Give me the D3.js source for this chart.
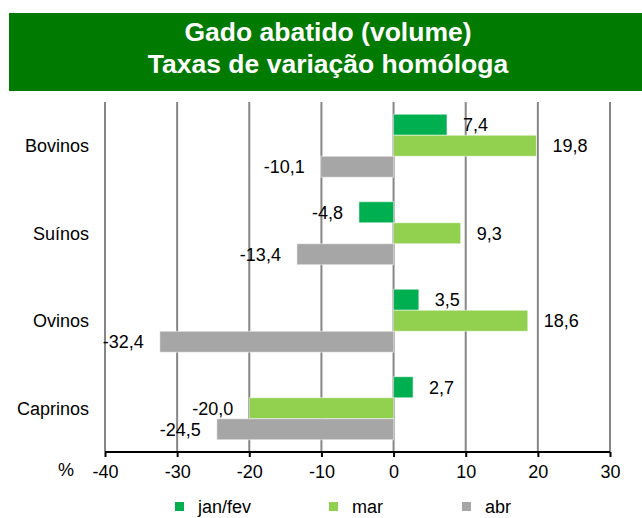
<!DOCTYPE html>
<html>
<head>
<meta charset="utf-8">
<script src="https://cdn.jsdelivr.net/npm/d3@7"></script>
<style>
  body { margin: 0; background: #fff; }
  svg { display: block; font-family: "Liberation Sans", Arial, sans-serif; }
</style>
</head>
<body>
<div id="chart"></div>
<script>
"use strict";

// Data
const categories = ["Bovinos", "Suínos", "Ovinos", "Caprinos"];
const seriesNames = ["jan/fev", "mar", "abr"];
const janFev = [7.4, -4.8, 3.5, 2.7];
const mar = [19.8, 9.3, 18.6, -20.0];
const abr = [-10.1, -13.4, -32.4, -24.5];
const xTicks = [-40, -30, -20, -10, 0, 10, 20, 30];
const titleLines = ["Gado abatido (volume)", "Taxas de variação homóloga"];

const seriesValues = [janFev, mar, abr];
const colors = ["#00B050", "#92D050", "#A6A6A6"];

const W = 642, H = 518;
const svg = d3.select("#chart").append("svg")
  .attr("width", W)
  .attr("height", H);

// Title box
svg.append("rect")
  .attr("x", 9).attr("y", 13)
  .attr("width", W - 9).attr("height", 78)
  .style("fill", "#007A00");

svg.selectAll("text.title")
  .data(titleLines)
  .enter().append("text")
  .attr("class", "title")
  .attr("x", 328)
  .attr("y", (d, i) => 41 + i * 32)
  .attr("text-anchor", "middle")
  .style("fill", "#fff")
  .style("font-weight", "bold")
  .style("font-size", "26.5px")
  .text(d => d);

// Scales
const x = d3.scaleLinear().domain([-40, 30]).range([105, 610]);
const y0 = d3.scaleBand().domain(categories).range([102, 452])
  .paddingInner(0.28).paddingOuter(0.14);
const y1 = d3.scaleBand().domain(seriesNames).range([0, y0.bandwidth()]);

// Grid lines
svg.append("g").selectAll("line")
  .data(xTicks)
  .enter().append("line")
  .attr("x1", d => x(d)).attr("x2", d => x(d))
  .attr("y1", 102).attr("y2", 452)
  .style("stroke", "#868686")
  .style("stroke-width", 2);

// Bars
let rows = [];
seriesNames.forEach(function(s, si) {
  categories.forEach(function(c, ci) {
    rows.push({ series: s, si: si, cat: c, value: seriesValues[si][ci] });
  });
});

let bars = svg.append("g");
bars.selectAll("rect")
  .data(rows)
  .enter().append("rect")
  .attr("x", d => x(Math.min(0, d.value)))
  .attr("y", d => y0(d.cat) + y1(d.series))
  .attr("width", d => Math.abs(x(d.value) - x(0)))
  .attr("height", y1.bandwidth())
  .style("fill", d => colors[d.si])
  .style("stroke", "#fff")
  .style("stroke-opacity", 0.5)
  .style("stroke-width", 1);

// Value labels
const fmt = v => d3.format(".1f")(v).replace(".", ",").replace("−", "-");
bars.selectAll("text")
  .data(rows)
  .enter().append("text")
  .attr("x", d => d.value >= 0 ? x(d.value) + 16 : x(d.value) - 16)
  .attr("y", d => y0(d.cat) + y1(d.series) + y1.bandwidth() / 2)
  .attr("dy", "0.35em")
  .attr("text-anchor", d => d.value >= 0 ? "start" : "end")
  .style("font-size", "18px")
  .style("fill", "#000")
  .text(d => fmt(d.value));

// X axis
const xAxis = d3.axisBottom(x)
  .tickValues(xTicks)
  .tickSize(5)
  .tickPadding(8)
  .tickFormat(d => String(d).replace("−", "-"));
let ax = svg.append("g")
  .attr("transform", "translate(0,452)")
  .call(xAxis);
ax.select(".domain").attr("d", "M" + x(-40) + ",0H" + x(30))
  .style("stroke", "#000").style("stroke-width", 2);
ax.selectAll(".tick line").style("stroke", "#000").style("stroke-width", 2);
ax.selectAll(".tick text")
  .style("font-size", "18px")
  .style("font-family", "'Liberation Sans', Arial, sans-serif")
  .style("fill", "#000");

svg.append("text")
  .attr("x", 66).attr("y", 476)
  .attr("text-anchor", "middle")
  .style("font-size", "18px")
  .text("%");

// Category labels
svg.append("g").selectAll("text")
  .data(categories)
  .enter().append("text")
  .attr("x", 89)
  .attr("y", d => y0(d) + y0.bandwidth() / 2)
  .attr("dy", "0.35em")
  .attr("text-anchor", "end")
  .style("font-size", "18px")
  .text(d => d);

// Legend
const legendX = [175, 329, 462];
let lg = svg.append("g").selectAll("g")
  .data(seriesNames)
  .enter().append("g")
  .attr("transform", (d, i) => "translate(" + legendX[i] + ",502)");
lg.append("rect")
  .attr("width", 9).attr("height", 9)
  .style("fill", (d, i) => colors[i]);
lg.append("text")
  .attr("x", 23).attr("y", 4.5)
  .attr("dy", "0.35em")
  .style("font-size", "18px")
  .text(d => d);
</script>
</body>
</html>
